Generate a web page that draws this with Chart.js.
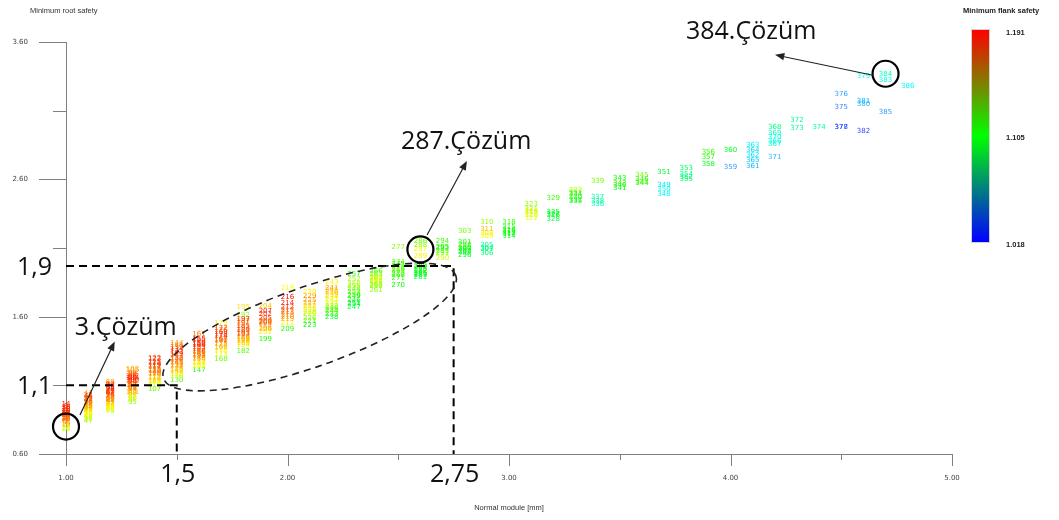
<!DOCTYPE html>
<html>
<head>
<meta charset="utf-8">
<script src="https://cdn.jsdelivr.net/npm/chart.js@4"></script>
<style>
  html, body { margin: 0; padding: 0; background: #fff; }
  #wrap { width: 1059px; height: 520px; }
</style>
</head>
<body>
<div id="wrap"><canvas id="chart" width="1059" height="520"></canvas></div>
<script>
// normal module of each column of solutions [mm]
const moduleColumns = [1.0, 1.1, 1.2, 1.3, 1.4, 1.5, 1.6, 1.7, 1.8, 1.9,
  2.0, 2.1, 2.2, 2.3, 2.4, 2.5, 2.6, 2.7, 2.8, 2.9,
  3.0, 3.1, 3.2, 3.3, 3.4, 3.5, 3.6, 3.7, 3.8, 3.9,
  4.0, 4.1, 4.2, 4.3, 4.4, 4.5, 4.6, 4.7, 4.8];

// minimum root safety, per column, in solution order (solution no. counts up 1..386)
const rootSafety = [
  [0.84, 0.88, 0.80, 0.92, 0.86, 0.95, 0.83, 0.90, 0.87, 0.93, 0.81, 0.89, 0.85, 0.96, 0.91, 0.78, 0.87, 0.94, 0.82, 0.88, 0.90, 0.85, 0.93, 0.79, 0.86, 0.91],
  [0.92, 0.96, 0.88, 1.00, 0.94, 1.03, 0.90, 0.98, 0.85, 0.95, 1.01, 0.89, 0.97, 0.93, 1.04, 0.87, 0.99, 0.91, 0.95, 1.02, 0.84, 0.96, 0.90, 0.98, 0.93, 1.00, 0.86, 0.94],
  [0.98, 1.03, 0.94, 1.08, 1.00, 1.11, 0.96, 1.05, 0.92, 1.01, 1.09, 0.95, 1.04, 0.99, 1.12, 0.93, 1.06, 0.97, 1.02, 1.10, 0.91, 1.03, 0.96, 1.07, 1.00, 1.05, 0.94, 0.99],
  [1.06, 1.12, 1.02, 1.15, 1.09, 1.18, 1.04, 1.13, 1.00, 1.10, 1.16, 1.07, 0.98, 1.01, 1.11, 1.19, 1.08, 1.14, 1.05, 1.17, 1.22, 1.15, 1.21, 1.10],
  [1.07, 1.13, 1.19, 1.10, 1.24, 1.16, 1.21, 1.12, 1.27, 1.18, 1.23, 1.15, 1.25, 1.20, 1.26, 1.30, 1.29, 1.14, 1.22],
  [1.22, 1.28, 1.18, 1.33, 1.14, 1.25, 1.30, 1.20, 1.36, 1.27, 1.17, 1.32, 1.24, 1.38, 1.29, 1.39, 1.21, 1.34, 1.41, 1.26],
  [1.30, 1.21, 1.35, 1.26, 1.41, 1.32, 1.24, 1.38, 1.29, 1.44, 1.34, 1.27, 1.40, 1.31, 1.43, 1.47, 1.36, 1.25, 1.39, 1.33],
  [1.38, 1.44, 1.29, 1.49, 1.35, 1.42, 1.52, 1.33, 1.46, 1.40, 1.50, 1.37, 1.47, 1.55, 1.43],
  [1.42, 1.35, 1.48, 1.39, 1.53, 1.45, 1.57, 1.41, 1.50, 1.44, 1.55, 1.61, 1.47, 1.52, 1.67, 1.43, 1.58],
  [1.52, 1.44, 1.57, 1.49, 1.62, 1.55, 1.68, 1.59, 1.51, 1.64, 1.56],
  [1.51, 1.60, 1.55, 1.67, 1.63, 1.70, 1.58, 1.74, 1.65, 1.61, 1.81],
  [1.62, 1.57, 1.68, 1.54, 1.65, 1.72, 1.59, 1.70, 1.63, 1.75, 1.78, 1.66],
  [1.68, 1.62, 1.74, 1.65, 1.78, 1.70, 1.60, 1.76, 1.66, 1.81, 1.72, 1.85, 1.64, 1.79],
  [1.72, 1.67, 1.80, 1.75, 1.84, 1.70, 1.87, 1.78, 1.69, 1.82, 1.76, 1.91],
  [1.86, 1.82, 1.89, 1.79, 1.84, 1.91, 1.87, 1.83, 1.93, 1.88],
  [1.90, 1.94, 1.83, 1.88, 1.96, 1.92, 2.00, 1.98, 1.95, 2.11],
  [1.95, 1.91, 1.97, 1.89, 1.93, 1.90, 1.96, 1.92, 2.15, 2.09, 2.12, 2.04],
  [2.03, 2.06, 2.10, 2.08, 2.15, 2.11],
  [2.05, 2.09, 2.12, 2.07, 2.10, 2.14, 2.08, 2.22],
  [2.10, 2.12, 2.06, 2.09, 2.21, 2.19, 2.29, 2.24],
  [2.21, 2.22, 2.19, 2.25, 2.23, 2.20, 2.29],
  [2.36, 2.34, 2.38, 2.32, 2.42, 2.37],
  [2.36, 2.34, 2.35, 2.31, 2.46],
  [2.47, 2.50, 2.45, 2.52, 2.49, 2.44],
  [2.42, 2.47, 2.44, 2.59],
  [2.56, 2.54, 2.57, 2.61],
  [2.57, 2.63, 2.60, 2.58],
  [2.49, 2.56, 2.53, 2.65],
  [2.62, 2.68, 2.64, 2.60],
  [2.80, 2.76, 2.71],
  [2.69, 2.81],
  [2.70, 2.78, 2.85, 2.81, 2.74],
  [2.88, 2.86, 2.98, 2.94, 2.91, 2.76],
  [3.03, 2.97],
  [2.98],
  [3.13, 3.22, 2.98, 2.98],
  [3.35, 3.15, 3.17, 2.95],
  [3.32, 3.37, 3.09],
  [3.28]
];

// minimum flank safety, same layout as rootSafety (drives the label colour)
const flankSafety = [
  [1.178, 1.183, 1.150, 1.189, 1.174, 1.186, 1.168, 1.181, 1.176, 1.185, 1.158, 1.180, 1.172, 1.187, 1.182, 1.138, 1.175, 1.184, 1.165, 1.179, 1.181, 1.170, 1.186, 1.145, 1.173, 1.183],
  [1.155, 1.165, 1.145, 1.175, 1.160, 1.182, 1.150, 1.170, 1.138, 1.162, 1.178, 1.147, 1.168, 1.158, 1.160, 1.143, 1.172, 1.152, 1.163, 1.180, 1.133, 1.166, 1.149, 1.171, 1.157, 1.176, 1.140, 1.161],
  [1.162, 1.176, 1.150, 1.185, 1.168, 1.178, 1.156, 1.181, 1.142, 1.170, 1.188, 1.152, 1.179, 1.165, 1.165, 1.146, 1.183, 1.160, 1.174, 1.186, 1.136, 1.177, 1.157, 1.184, 1.167, 1.180, 1.149, 1.164],
  [1.164, 1.178, 1.152, 1.184, 1.171, 1.180, 1.158, 1.182, 1.145, 1.175, 1.187, 1.166, 1.128, 1.140, 1.176, 1.174, 1.169, 1.183, 1.160, 1.179, 1.160, 1.185, 1.165, 1.173],
  [1.120, 1.150, 1.170, 1.140, 1.182, 1.162, 1.176, 1.146, 1.186, 1.168, 1.180, 1.158, 1.184, 1.173, 1.178, 1.178, 1.183, 1.154, 1.165],
  [1.160, 1.172, 1.150, 1.180, 1.118, 1.166, 1.176, 1.155, 1.184, 1.170, 1.140, 1.178, 1.163, 1.186, 1.174, 1.168, 1.158, 1.182, 1.165, 1.169],
  [1.165, 1.112, 1.176, 1.150, 1.186, 1.170, 1.142, 1.182, 1.160, 1.188, 1.173, 1.156, 1.184, 1.168, 1.180, 1.172, 1.178, 1.148, 1.183, 1.171],
  [1.162, 1.176, 1.124, 1.184, 1.150, 1.170, 1.180, 1.145, 1.186, 1.166, 1.174, 1.156, 1.182, 1.150, 1.172],
  [1.160, 1.118, 1.172, 1.150, 1.180, 1.165, 1.176, 1.155, 1.184, 1.162, 1.170, 1.128, 1.178, 1.174, 1.152, 1.158, 1.182],
  [1.166, 1.110, 1.176, 1.150, 1.184, 1.172, 1.158, 1.180, 1.160, 1.186, 1.174],
  [1.112, 1.170, 1.150, 1.182, 1.178, 1.186, 1.160, 1.190, 1.174, 1.166, 1.148],
  [1.140, 1.118, 1.158, 1.105, 1.150, 1.165, 1.128, 1.160, 1.135, 1.168, 1.150, 1.145],
  [1.130, 1.110, 1.150, 1.120, 1.160, 1.140, 1.100, 1.155, 1.125, 1.165, 1.145, 1.150, 1.115, 1.158],
  [1.095, 1.090, 1.125, 1.110, 1.135, 1.100, 1.130, 1.118, 1.098, 1.128, 1.112, 1.112],
  [1.130, 1.125, 1.138, 1.128, 1.135, 1.120, 1.142, 1.132, 1.118, 1.136],
  [1.110, 1.118, 1.105, 1.112, 1.125, 1.115, 1.122, 1.108, 1.120, 1.128],
  [1.098, 1.105, 1.110, 1.092, 1.102, 1.096, 1.108, 1.100, 1.122, 1.145, 1.130, 1.150],
  [1.140, 1.125, 1.112, 1.120, 1.115, 1.105],
  [1.100, 1.108, 1.112, 1.095, 1.105, 1.110, 1.102, 1.125],
  [1.090, 1.075, 1.085, 1.080, 1.150, 1.145, 1.130, 1.160],
  [1.100, 1.105, 1.098, 1.110, 1.102, 1.108, 1.112],
  [1.135, 1.140, 1.130, 1.145, 1.128, 1.150],
  [1.100, 1.105, 1.095, 1.092, 1.115],
  [1.115, 1.120, 1.110, 1.135, 1.105, 1.100],
  [1.070, 1.075, 1.080, 1.125],
  [1.110, 1.100, 1.115, 1.105],
  [1.105, 1.125, 1.110, 1.120],
  [1.060, 1.058, 1.065, 1.095],
  [1.085, 1.090, 1.080, 1.088],
  [1.115, 1.110, 1.100],
  [1.040, 1.100],
  [1.050, 1.058, 1.060, 1.055, 1.052],
  [1.065, 1.068, 1.082, 1.070, 1.066, 1.045],
  [1.078, 1.080],
  [1.075],
  [1.035, 1.042, 1.028, 1.025],
  [1.062, 1.045, 1.048, 1.022],
  [1.065, 1.075, 1.040],
  [1.062]
];

// axis ticks
const xTickValues = [1.0, 1.5, 2.0, 2.5, 3.0, 3.5, 4.0, 4.5, 5.0];
const xTickLabels = ['1.00', '', '2.00', '', '3.00', '', '4.00', '', '5.00'];
const yTickValues = [0.6, 1.1, 1.6, 2.1, 2.6, 3.1, 3.6];
const yTickLabels = ['0.60', '', '1.60', '', '2.60', '', '3.60'];

// colour bar
const colorbarValues = [1.191, 1.105, 1.018];
const colorbarLabels = ['1.191', '1.105', '1.018'];

// highlighted solutions and the guide values drawn on top
const highlighted = [3, 287, 384];
const guideX = [1.5, 2.75];
const guideY = [1.1, 1.97];
const guideXLabels = ['1,5', '2,75'];
const guideYLabels = ['1,1', '1,9'];

// flatten into points, numbering the solutions as they come
const points = [];
let solutionNo = 1;
moduleColumns.forEach((m, i) => {
  rootSafety[i].forEach((r, j) => {
    points.push({ x: m, y: r, no: solutionNo, flank: flankSafety[i][j] });
    solutionNo++;
  });
});

const flankMax = colorbarValues[0];
const flankMin = colorbarValues[colorbarValues.length - 1];

function flankColor(f) {
  const t = Math.min(1, Math.max(0, (flankMax - f) / (flankMax - flankMin)));
  const hue = 240 * t;
  const light = hue > 200 ? 60 : 50;
  return `hsl(${hue.toFixed(0)}, 100%, ${light}%)`;
}

function arrow(ctx, x1, y1, x2, y2) {
  const ang = Math.atan2(y2 - y1, x2 - x1);
  const head = 10;
  ctx.beginPath();
  ctx.moveTo(x1, y1);
  ctx.lineTo(x2 - Math.cos(ang) * head * 0.8, y2 - Math.sin(ang) * head * 0.8);
  ctx.stroke();
  ctx.beginPath();
  ctx.moveTo(x2, y2);
  ctx.lineTo(x2 - head * Math.cos(ang - 0.38), y2 - head * Math.sin(ang - 0.38));
  ctx.lineTo(x2 - head * Math.cos(ang + 0.38), y2 - head * Math.sin(ang + 0.38));
  ctx.closePath();
  ctx.fill();
}

// solution numbers drawn as the marks
const labelPlugin = {
  id: 'solutionLabels',
  afterDatasetsDraw(chart) {
    const ctx = chart.ctx;
    const meta = chart.getDatasetMeta(0);
    ctx.save();
    ctx.font = '7px "DejaVu Sans"';
    ctx.textAlign = 'center';
    ctx.textBaseline = 'middle';
    meta.data.forEach((el, i) => {
      const p = points[i];
      ctx.fillStyle = flankColor(p.flank);
      ctx.fillText(String(p.no), el.x, el.y);
    });
    ctx.restore();
  }
};

// tick marks, axis titles, colour bar and the hand-drawn notes
const overlayPlugin = {
  id: 'overlay',
  afterDraw(chart) {
    const { ctx, chartArea, scales: { x, y } } = chart;
    ctx.save();

    // tick marks
    ctx.strokeStyle = '#808080';
    ctx.lineWidth = 1;
    xTickValues.forEach((v, i) => {
      const px = Math.round(x.getPixelForValue(v)) + 0.5;
      const len = xTickLabels[i] ? 12 : 6;
      ctx.beginPath();
      ctx.moveTo(px, chartArea.bottom);
      ctx.lineTo(px, chartArea.bottom + len);
      ctx.stroke();
    });
    yTickValues.forEach((v, i) => {
      const py = Math.round(y.getPixelForValue(v)) + 0.5;
      const len = yTickLabels[i] ? 27 : 13;
      ctx.beginPath();
      ctx.moveTo(chartArea.left, py);
      ctx.lineTo(chartArea.left - len, py);
      ctx.stroke();
    });

    // axis titles
    ctx.fillStyle = '#333';
    ctx.font = '7.5px "Liberation Sans"';
    ctx.textBaseline = 'middle';
    ctx.textAlign = 'left';
    ctx.fillText('Minimum root safety', 30, 11);
    ctx.textAlign = 'center';
    ctx.fillText('Normal module [mm]', (chartArea.left + chartArea.right) / 2, 508);

    // colour bar
    const barX = 972, barTop = 30, barW = 17, barH = 212;
    const grad = ctx.createLinearGradient(0, barTop, 0, barTop + barH);
    grad.addColorStop(0, '#ff0000');
    grad.addColorStop(0.5, '#00ff00');
    grad.addColorStop(1, '#0000ff');
    ctx.fillStyle = grad;
    ctx.fillRect(barX, barTop, barW, barH);
    ctx.strokeStyle = '#d0d0d0';
    ctx.strokeRect(barX - 0.5, barTop - 0.5, barW + 1, barH + 1);
    ctx.fillStyle = '#222';
    ctx.font = 'bold 7.5px "Liberation Sans"';
    ctx.textAlign = 'left';
    ctx.fillText('Minimum flank safety', 963, 11);
    colorbarValues.forEach((v, i) => {
      const t = (flankMax - v) / (flankMax - flankMin);
      ctx.fillText(colorbarLabels[i], 1006, barTop + 3 + t * barH);
    });

    // dashed guide lines
    ctx.strokeStyle = '#000';
    ctx.lineWidth = 2;
    ctx.setLineDash([8, 5]);
    guideX.forEach((gx, i) => {
      const px = x.getPixelForValue(gx);
      const py = y.getPixelForValue(guideY[i]);
      ctx.beginPath();
      ctx.moveTo(chartArea.left, py);
      ctx.lineTo(px, py);
      ctx.lineTo(px, chartArea.bottom);
      ctx.stroke();
    });

    // dashed ellipse round the 1.5 .. 2.75 group
    ctx.lineWidth = 1.6;
    ctx.setLineDash([7, 5]);
    ctx.strokeStyle = '#222';
    ctx.beginPath();
    ctx.ellipse(x.getPixelForValue(2.1), y.getPixelForValue(1.525), 155, 40, -19.4 * Math.PI / 180, 0, Math.PI * 2);
    ctx.stroke();
    ctx.setLineDash([]);

    // circles round the highlighted solutions
    ctx.strokeStyle = '#000';
    ctx.lineWidth = 2.2;
    highlighted.forEach(no => {
      const p = points[no - 1];
      ctx.beginPath();
      ctx.arc(x.getPixelForValue(p.x), y.getPixelForValue(p.y), 13, 0, Math.PI * 2);
      ctx.stroke();
    });

    // arrows from the circles to their notes
    ctx.strokeStyle = '#222';
    ctx.fillStyle = '#222';
    ctx.lineWidth = 1.2;
    arrow(ctx, x.getPixelForValue(1.063), y.getPixelForValue(0.884), x.getPixelForValue(1.22), y.getPixelForValue(1.42));
    arrow(ctx, x.getPixelForValue(2.63), y.getPixelForValue(2.196), x.getPixelForValue(2.81), y.getPixelForValue(2.735));
    arrow(ctx, x.getPixelForValue(4.643), y.getPixelForValue(3.359), x.getPixelForValue(4.201), y.getPixelForValue(3.508));

    // note texts
    ctx.fillStyle = '#111';
    ctx.font = '25px "Open Sans"';
    ctx.textBaseline = 'alphabetic';
    ctx.textAlign = 'left';
    ctx.fillText(highlighted[0] + '.Çözüm', x.getPixelForValue(1.04), y.getPixelForValue(1.465));
    ctx.fillText(highlighted[1] + '.Çözüm', x.getPixelForValue(2.512), y.getPixelForValue(2.825));
    ctx.fillText(highlighted[2] + '.Çözüm', x.getPixelForValue(3.799), y.getPixelForValue(3.62));

    ctx.textAlign = 'right';
    guideY.forEach((gy, i) => {
      ctx.fillText(guideYLabels[i], chartArea.left - 14, y.getPixelForValue(gy) + 9);
    });
    ctx.textAlign = 'center';
    guideX.forEach((gx, i) => {
      ctx.fillText(guideXLabels[i], x.getPixelForValue(gx) + 1, chartArea.bottom + 28);
    });

    ctx.restore();
  }
};

new Chart(document.getElementById('chart'), {
  type: 'scatter',
  data: {
    datasets: [{
      data: points,
      pointRadius: 0,
      pointHoverRadius: 0,
      backgroundColor: 'transparent',
      borderColor: 'transparent'
    }]
  },
  options: {
    responsive: false,
    animation: false,
    events: [],
    layout: { padding: { left: 0, top: 31, right: 107, bottom: 0 } },
    plugins: {
      legend: { display: false },
      tooltip: { enabled: false }
    },
    scales: {
      x: {
        type: 'linear',
        min: 1,
        max: 5,
        afterBuildTicks: s => { s.ticks = xTickValues.map(v => ({ value: v })); },
        afterFit: s => { s.height = 66; },
        ticks: {
          autoSkip: false,
          maxRotation: 0,
          padding: 20,
          color: '#444',
          font: { family: 'DejaVu Sans', size: 7 },
          callback: (v, i) => xTickLabels[i]
        },
        grid: { display: false, drawTicks: false, tickLength: 0 },
        border: { display: true, color: '#808080', width: 1 }
      },
      y: {
        type: 'linear',
        min: 0.6,
        max: 3.6,
        afterBuildTicks: s => { s.ticks = yTickValues.map(v => ({ value: v })); },
        afterFit: s => { s.width = 66; },
        ticks: {
          autoSkip: false,
          padding: 38,
          color: '#444',
          font: { family: 'DejaVu Sans', size: 7 },
          callback: (v, i) => yTickLabels[i]
        },
        grid: { display: false, drawTicks: false, tickLength: 0 },
        border: { display: true, color: '#808080', width: 1 }
      }
    }
  },
  plugins: [labelPlugin, overlayPlugin]
});
</script>
</body>
</html>
